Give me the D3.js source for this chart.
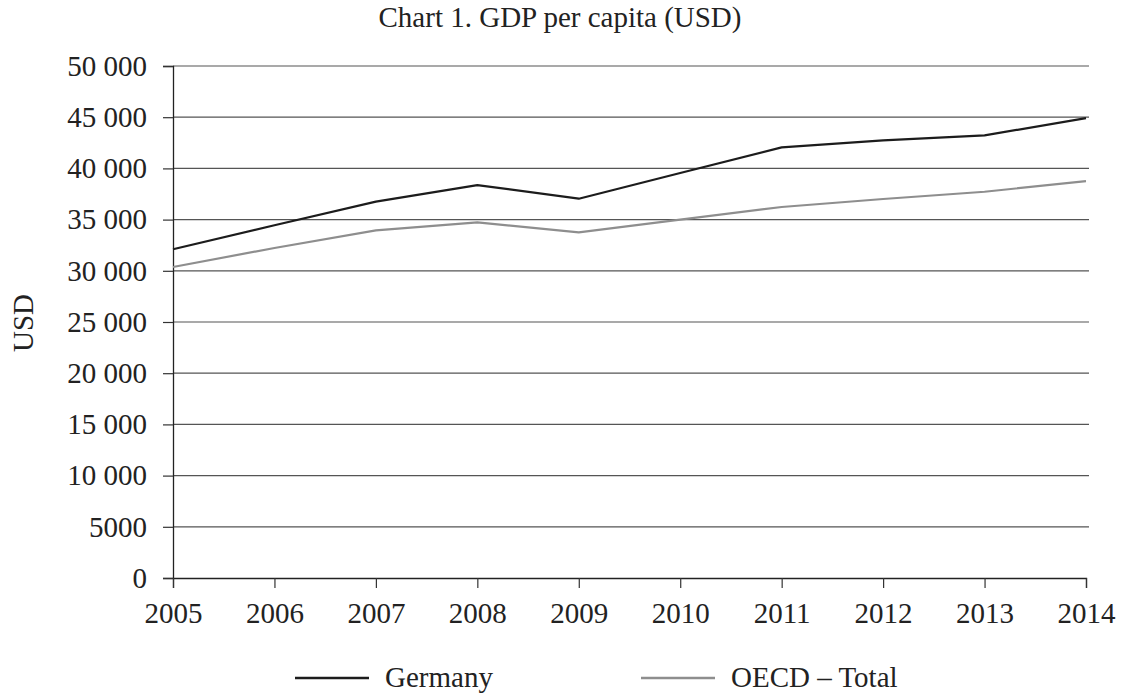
<!DOCTYPE html>
<html>
<head>
<meta charset="utf-8">
<script src="https://cdn.jsdelivr.net/npm/d3@7"></script>
<style>
  html, body { margin: 0; padding: 0; background: #fff; }
  svg { display: block; font-family: "Liberation Serif", "Times New Roman", serif; }
</style>
</head>
<body>
<svg id="chart" width="1127" height="697"></svg>
<script>
const years = [2005, 2006, 2007, 2008, 2009, 2010, 2011, 2012, 2013, 2014];
const germany = [32100, 34450, 36750, 38370, 37040, 39550, 42050, 42730, 43220, 44910];
const oecd = [30370, 32230, 33950, 34730, 33760, 35000, 36230, 37010, 37720, 38760];
const yTicks = [0, 5000, 10000, 15000, 20000, 25000, 30000, 35000, 40000, 45000, 50000];
const seriesNames = ["Germany", "OECD – Total"];
const seriesColors = ["#1c1c1c", "#8e8e8e"];

(function () {
const svg = d3.select("#chart");
const mLeft = 173, mRight = 1086, mTop = 66, mBottom = 578;
const FS = 29;

const x = d3.scaleLinear().domain([2005, 2014]).range([mLeft, mRight]);
const y = d3.scaleLinear().domain([0, 50000]).range([mBottom, mTop]);

const fmt = v => v >= 10000 ? d3.format(",")(v).replace(/,/g, "\u00a0") : String(v);

// title
svg.append("text").attr("x", 560).attr("y", 27).attr("text-anchor", "middle")
  .attr("font-size", FS).attr("fill", "#222").text("Chart 1. GDP per capita (USD)");

// gridlines
svg.append("g").selectAll("line").data(yTicks.filter(d => d > 0)).join("line")
  .attr("x1", mLeft).attr("x2", mRight + 3)
  .attr("y1", d => y(d)).attr("y2", d => y(d))
  .attr("stroke", "#555").attr("stroke-width", 1.2);

// y axis
const yAxis = d3.axisLeft(y).tickValues(yTicks).tickSize(10).tickPadding(16).tickFormat(fmt);
const gy = svg.append("g").attr("transform", `translate(${mLeft},0)`).call(yAxis);
gy.select(".domain").attr("stroke", "#222").attr("stroke-width", 1.3);
gy.selectAll(".tick line").attr("stroke", "#333").attr("stroke-width", 1.2);
gy.selectAll(".tick text").attr("font-size", FS).attr("fill", "#222")
  .attr("font-family", "Liberation Serif, serif");

// x axis
const xAxis = d3.axisBottom(x).tickValues(years).tickSize(10).tickPadding(14).tickFormat(d3.format("d"));
const gx = svg.append("g").attr("transform", `translate(0,${mBottom})`).call(xAxis);
gx.select(".domain").attr("stroke", "#222").attr("stroke-width", 1.3);
gx.selectAll(".tick line").attr("stroke", "#333").attr("stroke-width", 1.2);
gx.selectAll(".tick text").attr("font-size", FS).attr("fill", "#222")
  .attr("font-family", "Liberation Serif, serif");

// y label
svg.append("text").attr("transform", "translate(33,323) rotate(-90)")
  .attr("text-anchor", "middle").attr("font-size", FS).attr("fill", "#222").text("USD");

// lines
const line = d3.line().x((d, i) => x(years[i])).y(d => y(d));
[germany, oecd].forEach((s, k) => {
  svg.append("path").datum(s).attr("d", line).attr("fill", "none")
    .attr("stroke", seriesColors[k]).attr("stroke-width", 2.2).attr("stroke-linejoin", "round");
});

// legend
const legendX = [295, 641];
seriesNames.forEach((n, k) => {
  svg.append("line").attr("x1", legendX[k]).attr("x2", legendX[k] + 74)
    .attr("y1", 678).attr("y2", 678).attr("stroke", seriesColors[k]).attr("stroke-width", 2.4);
  svg.append("text").attr("x", legendX[k] + 90).attr("y", 687)
    .attr("font-size", FS).attr("fill", "#222").text(n);
});
})();
</script>
</body>
</html>
